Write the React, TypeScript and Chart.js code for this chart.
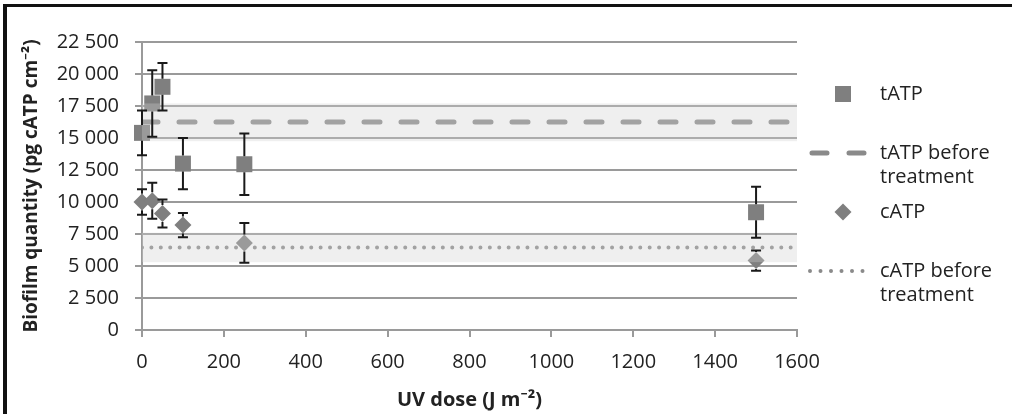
import React, { useEffect, useRef } from 'react';
import { Chart, registerables } from 'chart.js';

Chart.register(...registerables);

// ---- data ----
const doses = [0, 25, 50, 100, 250, 1500];
const tATP = [15400, 17700, 19000, 13000, 12950, 9200];
const tATPErr = [1750, 2600, 1850, 2000, 2400, 2000];
const cATP = [10000, 10100, 9100, 8200, 6800, 5420];
const cATPErr = [1000, 1400, 1100, 950, 1550, 800];
const tATPBefore = 16250;
const tATPBeforeBand = [14750, 17700];
const cATPBefore = 6450;
const cATPBeforeBand = [5300, 7600];
const xRange = [0, 1600];
const yRange = [0, 22500];
const xTickLabels = ['0', '200', '400', '600', '800', '1000', '1200', '1400', '1600'];
const yTickLabels = ['0', '2 500', '5 000', '7 500', '10 000', '12 500', '15 000', '17 500', '20 000', '22 500'];
const legendLabels = [['tATP'], ['tATP before', 'treatment'], ['cATP'], ['cATP before', 'treatment']];
const xTitle = 'UV dose (J m⁻²)';
const yTitle = 'Biofilm quantity (pg cATP cm⁻²)';

const FONT = '"Open Sans", "Noto Sans", sans-serif';
const TEXT = '#222222';
const MARK = '#7f7f7f';
const LINE = '#8a8a8a';
const GRID = '#9a9a9a';
const SQ_R = 11.3;
const DI_R = 8.5;

const overlayPlugin = {
  id: 'overlay',
  afterDatasetsDraw(chart: any) {
    const { ctx, chartArea: a } = chart;
    const x = chart.scales.x;
    const y = chart.scales.y;
    ctx.save();
    // translucent bands over the marks
    ctx.fillStyle = 'rgba(208,208,208,0.34)';
    for (const [lo, hi] of [tATPBeforeBand, cATPBeforeBand]) {
      const yt = y.getPixelForValue(hi);
      const yb = y.getPixelForValue(lo);
      ctx.fillRect(a.left, yt, a.right - a.left, yb - yt);
    }
    // error bars
    ctx.strokeStyle = '#1a1a1a';
    ctx.lineWidth = 2;
    const drawErr = (vals: number[], errs: number[], half: number) => {
      doses.forEach((d, i) => {
        const px = x.getPixelForValue(d);
        const pc = y.getPixelForValue(vals[i]);
        const top = y.getPixelForValue(vals[i] + errs[i]);
        const bot = y.getPixelForValue(vals[i] - errs[i]);
        ctx.beginPath();
        ctx.moveTo(px, top);
        ctx.lineTo(px, pc - half);
        ctx.moveTo(px, pc + half);
        ctx.lineTo(px, bot);
        ctx.moveTo(px - 5, top);
        ctx.lineTo(px + 5, top);
        ctx.moveTo(px - 5, bot);
        ctx.lineTo(px + 5, bot);
        ctx.stroke();
      });
    };
    drawErr(tATP, tATPErr, SQ_R * Math.SQRT1_2);
    drawErr(cATP, cATPErr, DI_R);
    ctx.restore();
  },
  afterDraw(chart: any) {
    const { ctx, chartArea: a } = chart;
    ctx.save();
    // legend
    const mx = a.right + 46;
    const tx = a.right + 83;
    const rows = [94, 153, 212, 271];
    ctx.font = `20px ${FONT}`;
    ctx.fillStyle = TEXT;
    ctx.textBaseline = 'middle';
    ctx.textAlign = 'left';
    legendLabels.forEach((lines, i) => {
      lines.forEach((t, j) => ctx.fillText(t, tx, rows[i] + j * 24.5));
    });
    // square
    ctx.fillStyle = MARK;
    const s = SQ_R * Math.SQRT1_2;
    ctx.fillRect(mx - s, rows[0] - s, 2 * s, 2 * s);
    // diamond
    ctx.beginPath();
    ctx.moveTo(mx, rows[2] - DI_R);
    ctx.lineTo(mx + DI_R, rows[2]);
    ctx.lineTo(mx, rows[2] + DI_R);
    ctx.lineTo(mx - DI_R, rows[2]);
    ctx.closePath();
    ctx.fill();
    // dashed
    ctx.strokeStyle = LINE;
    ctx.lineCap = 'round';
    ctx.lineWidth = 5;
    ctx.setLineDash([15, 22]);
    ctx.beginPath();
    ctx.moveTo(a.right + 15, rows[1]);
    ctx.lineTo(a.right + 70, rows[1]);
    ctx.stroke();
    // dotted
    ctx.lineWidth = 4;
    ctx.setLineDash([0.001, 10.5]);
    ctx.beginPath();
    ctx.moveTo(a.right + 13, rows[3]);
    ctx.lineTo(a.right + 70, rows[3]);
    ctx.stroke();
    ctx.setLineDash([]);
    // frame (top and left edges)
    ctx.fillStyle = '#111111';
    ctx.fillRect(3, 4, chart.width - 3, 3);
    ctx.fillRect(3, 4, 4, chart.height - 4);
    ctx.restore();
  },
};

export default function App() {
  const ref = useRef<HTMLCanvasElement | null>(null);
  useEffect(() => {
    if (!ref.current) return;
    const chart = new Chart(ref.current, {
      type: 'scatter',
      data: {
        datasets: [
          {
            label: 'tATP',
            data: doses.map((d, i) => ({ x: d, y: tATP[i] })),
            pointStyle: 'rect',
            pointRadius: SQ_R,
            backgroundColor: MARK,
            borderWidth: 0,
            clip: false,
            order: 1,
          },
          {
            label: 'cATP',
            data: doses.map((d, i) => ({ x: d, y: cATP[i] })),
            pointStyle: 'rectRot',
            pointRadius: DI_R,
            backgroundColor: MARK,
            borderWidth: 0,
            clip: false,
            order: 1,
          },
          {
            label: 'tATP before treatment',
            data: xRange.map((d) => ({ x: d, y: tATPBefore })),
            showLine: true,
            pointRadius: 0,
            borderColor: LINE,
            borderWidth: 5,
            borderDash: [16, 21],
            borderCapStyle: 'round',
            order: 2,
          },
          {
            label: 'cATP before treatment',
            data: xRange.map((d) => ({ x: d, y: cATPBefore })),
            showLine: true,
            pointRadius: 0,
            borderColor: LINE,
            borderWidth: 4,
            borderDash: [0.001, 9.4],
            borderCapStyle: 'round',
            order: 2,
          },
        ] as any,
      },
      plugins: [overlayPlugin],
      options: {
        animation: false,
        responsive: true,
        maintainAspectRatio: false,
        layout: { padding: { top: 42, right: 215, left: 0, bottom: 0 } },
        plugins: { legend: { display: false }, tooltip: { enabled: false } },
        scales: {
          x: {
            type: 'linear',
            min: xRange[0],
            max: xRange[1],
            afterFit: (s: any) => { s.height = 84; },
            ticks: {
              stepSize: 200,
              padding: 13,
              color: TEXT,
              font: { family: FONT, size: 20 },
              callback: (_v: any, i: number) => xTickLabels[i],
            },
            grid: { drawOnChartArea: false, drawTicks: true, tickLength: 7, color: GRID, lineWidth: 2 },
            border: { color: GRID, width: 2 },
            title: {
              display: true,
              text: xTitle,
              color: TEXT,
              font: { family: FONT, size: 20, weight: 'bold' },
              padding: { top: 0, bottom: 2 },
            },
          },
          y: {
            type: 'linear',
            min: yRange[0],
            max: yRange[1],
            afterFit: (s: any) => { s.width = 142; },
            ticks: {
              stepSize: 2500,
              padding: 16,
              color: TEXT,
              font: { family: FONT, size: 20 },
              callback: (_v: any, i: number) => yTickLabels[i],
            },
            grid: { color: GRID, lineWidth: 2, tickLength: 7, drawTicks: true },
            border: { color: GRID, width: 2 },
            title: {
              display: true,
              text: yTitle,
              color: TEXT,
              font: { family: FONT, size: 19, weight: 'bold' },
              padding: { top: 20, bottom: 0 },
            },
          },
        },
      } as any,
    });
    return () => chart.destroy();
  }, []);
  return (
    <div style={{ position: 'absolute', left: 0, top: 0, width: 1012, height: 414, background: '#ffffff' }}>
      <canvas ref={ref} />
    </div>
  );
}
